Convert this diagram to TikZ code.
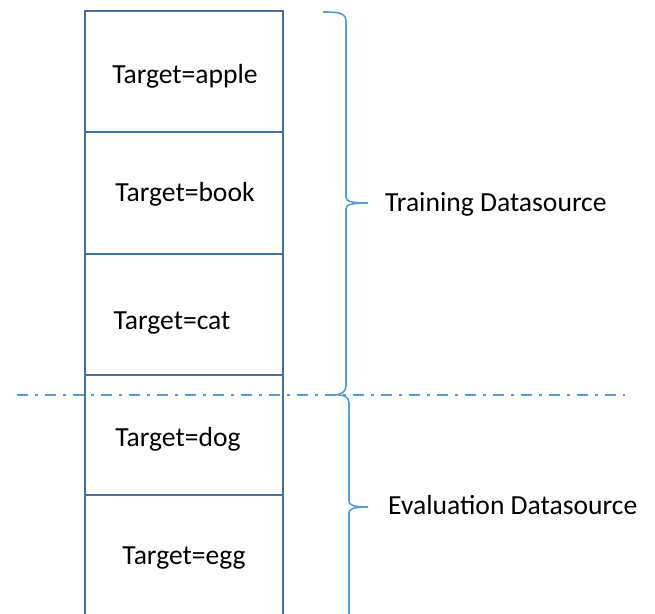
\documentclass[tikz,border=0pt]{standalone}
\usepackage{fontspec}
\setmainfont{Carlito}
\definecolor{boxblue}{RGB}{65,113,156}
\definecolor{accblue}{RGB}{91,155,213}
\begin{document}
\begin{tikzpicture}[x=1pt,y=-1pt,
  cell/.style={draw=boxblue,line width=1.5pt,minimum width=198pt,inner sep=0pt,outer sep=0pt},
  lbl/.style={font=\fontsize{27.6}{31}\selectfont,inner sep=0pt,anchor=base},
  side/.style={font=\fontsize{27.6}{31}\selectfont,inner sep=0pt,anchor=base west},
  bracepath/.style={draw=accblue,line width=1.6pt},
  splitline/.style={draw=accblue,line width=2.4pt,dash pattern=on 11pt off 7pt on 3pt off 7pt}]
\useasboundingbox (0,0) rectangle (655,613);
\fill[white] (0,0) rectangle (655,613);
% cells
\node[cell,minimum height=121pt] (c1) at (184,71.5) {};
\node[cell,minimum height=122pt] (c2) at (184,193) {};
\node[cell,minimum height=121pt] (c3) at (184,314.5) {};
\node[cell,minimum height=120pt] (c4) at (184,435) {};
\coordinate (c5bl) at (85,620);
\coordinate (c5br) at (283,620);
\draw[boxblue,line width=1.5pt] (c5bl) -- (c4.south west) (c4.south east) -- (c5br);
% labels
\node[lbl] (t1) at (185,83) {Target=apple};
\node[lbl] (t2) at (185,201) {Target=book};
\node[lbl] (t3) at (172,329) {Target=cat};
\node[lbl] (t4) at (178,446) {Target=dog};
\node[lbl] (t5) at (184,564) {Target=egg};
% split line
\coordinate (sl) at (17,395);
\coordinate (sr) at (625,395);
\draw[splitline] (sl) -- (sr);
% braces
\coordinate (b1top) at (323,12);
\coordinate (b1tip) at (368,203);
\coordinate (b1bot) at (333,395);
\draw[bracepath] (b1top) .. controls (340,12) and (346,13) .. (346,22) -- (346,197)
  .. controls (346,201) and (350,203) .. (b1tip)
  .. controls (350,203) and (346,205) .. (346,209) -- (346,386)
  .. controls (346,392) and (341,395) .. (b1bot);
\coordinate (b2top) at (338,395);
\coordinate (b2tip) at (368,507);
\coordinate (b2bot) at (349,620);
\draw[bracepath] (b2top) .. controls (344,395) and (349,397) .. (349,403) -- (349,501)
  .. controls (349,505) and (353,507) .. (b2tip)
  .. controls (353,507) and (349,509) .. (349,513) -- (b2bot);
\node[side] (tr) at (385,211) {Training Datasource};
\node[side] (ev) at (388,514) {Evaluation Datasource};
\end{tikzpicture}
\end{document}
